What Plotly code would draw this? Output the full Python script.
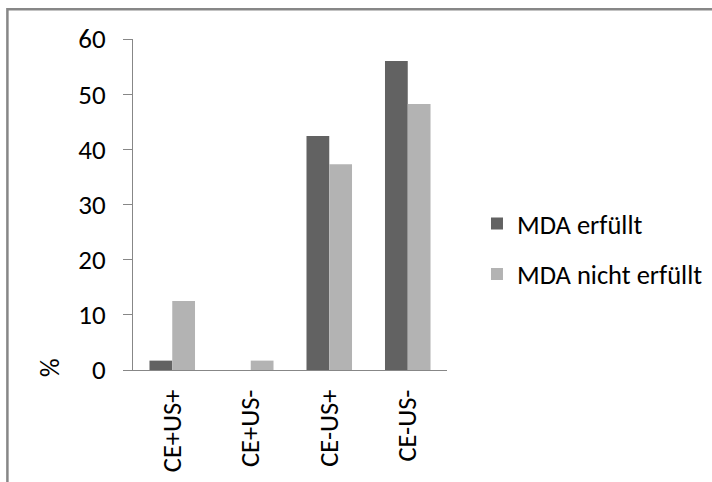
import plotly.graph_objects as go

categories = ["CE+US+", "CE+US-", "CE-US+", "CE-US-"]
mda_erfuellt = [1.7, 0, 42.4, 56.0]
mda_nicht_erfuellt = [12.5, 1.7, 37.3, 48.2]
y_ticks = [0, 10, 20, 30, 40, 50, 60]

FONT = "Carlito, 'Liberation Sans Narrow', 'Open Sans', sans-serif"
AXIS_GRAY = "#878787"

fig = go.Figure()
fig.add_trace(go.Bar(x=categories, y=mda_erfuellt, name="MDA erfüllt",
                     marker=dict(color="#626262", line=dict(width=0)),
                     legendgroup="a"))
fig.add_trace(go.Bar(x=categories, y=mda_nicht_erfuellt, name="MDA nicht erfüllt",
                     marker=dict(color="#b3b3b3", line=dict(width=0)),
                     legendgroup="b"))

fig.update_layout(
    width=712, height=482,
    margin=dict(l=133, r=265, t=39, b=112, autoexpand=False),
    paper_bgcolor="white", plot_bgcolor="white",
    barmode="group", bargap=0.42, bargroupgap=0,
    font=dict(family=FONT, size=27, color="#000000"),
    showlegend=True,
    legend=dict(x=1.0955, y=0.366, xanchor="left", yanchor="middle",
                font=dict(family=FONT, size=26.5, color="#000000"),
                tracegroupgap=13, bgcolor="rgba(0,0,0,0)"),
    xaxis=dict(showline=True, linecolor=AXIS_GRAY, linewidth=1,
               ticks="", tickangle=-90, showgrid=False, zeroline=False,
               tickfont=dict(family=FONT, size=26.5), ticklabelstandoff=8),
    yaxis=dict(range=[0, 60], tickvals=y_ticks, showline=True, linecolor=AXIS_GRAY,
               linewidth=1, ticks="outside", ticklen=9, tickcolor=AXIS_GRAY,
               showgrid=False, zeroline=False,
               tickfont=dict(family=FONT, size=27), ticklabelstandoff=12),
    annotations=[dict(text="%", textangle=-90, xref="paper", yref="y",
                      x=-0.264, y=0.4, xanchor="center", yanchor="middle",
                      showarrow=False, font=dict(family=FONT, size=26))],
    shapes=[dict(type="rect", xref="paper", yref="paper",
                 x0=-0.4, x1=1.9, y0=-0.4, y1=1.09,
                 line=dict(color=AXIS_GRAY, width=2.5), layer="below")],
)

fig.write_html("out.html")
